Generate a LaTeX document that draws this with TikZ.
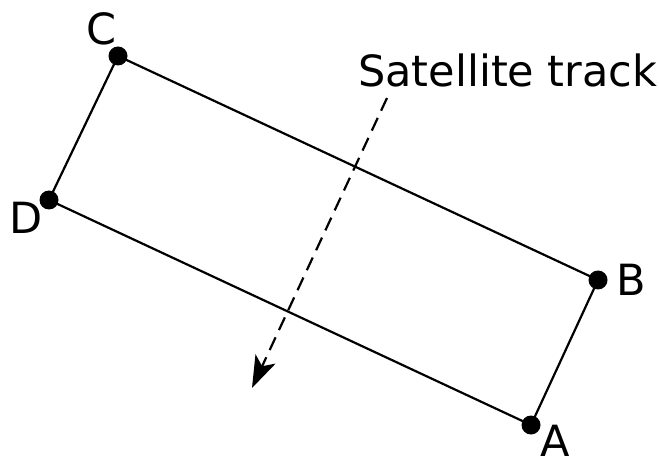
\documentclass[tikz,border=0pt]{standalone}
\usepackage{fontspec}
\setmainfont{DejaVu Sans}
\usetikzlibrary{arrows.meta}
\begin{document}
\begin{tikzpicture}[x=1bp,y=-1bp,
  corner/.style={circle,fill=black,inner sep=0pt,minimum size=19bp},
  edge/.style={line width=2.2bp},
  lbl/.style={inner sep=0pt,font=\fontsize{43bp}{46bp}\selectfont},
  track/.style={line width=2.2bp,dash pattern=on 14bp off 8bp,-{Stealth[length=32bp,width=22bp,inset=8bp]}}]
\useasboundingbox (0,0) rectangle (659,461);
\node[corner] (C) at (118,56) {};
\node[corner] (D) at (49,200) {};
\node[corner] (B) at (598,280) {};
\node[corner] (A) at (531,425) {};
\draw[edge] (C.center) -- (B.center) -- (A.center) -- (D.center) -- cycle;
\node[lbl] (lC) at (102,29) {C};
\node[lbl] (lD) at (26,218) {D};
\node[lbl] (lB) at (631,280) {B};
\node[lbl] (lA) at (555,441) {A};
\node[lbl,anchor=base west] (st) at (358,87) {Satellite track};
\coordinate (ts) at (387,98);
\coordinate (te) at (252,388);
\draw[track] (ts) -- (te);
\end{tikzpicture}
\end{document}
